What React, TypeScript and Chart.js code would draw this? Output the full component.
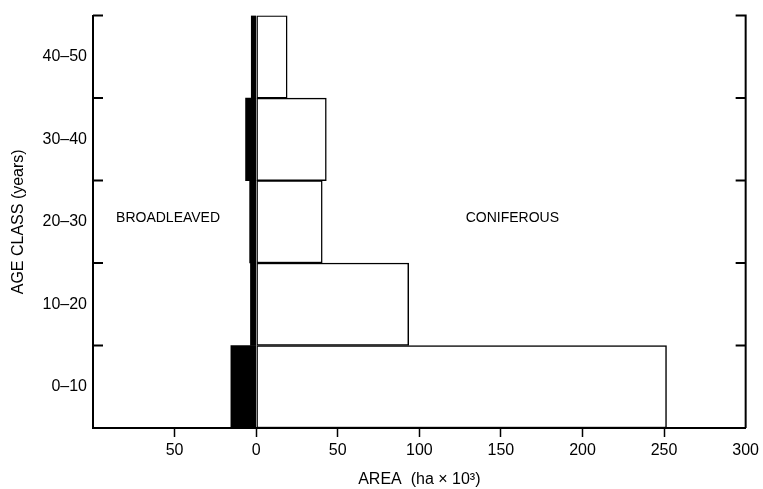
import React, { useEffect, useRef } from "react";
import { Chart, registerables } from "chart.js";

Chart.register(...registerables);

// Age classes, bottom to top
const ageClasses = ["0–10", "10–20", "20–30", "30–40", "40–50"];
// Area (ha x 10^3); broadleaved plotted to the left (negative)
const broadleaved = [-15.5, -3.5, -4, -6.5, -3];
const coniferous = [251.5, 93.5, 40.5, 43, 19];
const xMin = -100;
const xMax = 300;
const xStep = 50;
const annotations = [
  { text: "BROADLEAVED", x: -54, category: "20–30" },
  { text: "CONIFEROUS", x: 157, category: "20–30" },
];

const FONT = "'Liberation Sans', Arial, Helvetica, sans-serif";

const framePlugin = {
  id: "frame",
  afterDraw(chart: any) {
    const { ctx, chartArea, scales } = chart;
    const y = scales.y;
    const x = scales.x;
    const step = Math.abs(y.getPixelForValue(1) - y.getPixelForValue(0));
    ctx.save();
    ctx.strokeStyle = "#000";
    ctx.lineWidth = 2;
    ctx.beginPath();
    ctx.moveTo(chartArea.right, chartArea.top - 1);
    ctx.lineTo(chartArea.right, chartArea.bottom);
    const tl = 10;
    for (let i = 0; i < ageClasses.length; i++) {
      const edge = y.getPixelForValue(i) - step / 2;
      ctx.moveTo(chartArea.left, edge);
      ctx.lineTo(chartArea.left + tl, edge);
      ctx.moveTo(chartArea.right, edge);
      ctx.lineTo(chartArea.right - tl, edge);
    }
    ctx.stroke();
    ctx.fillStyle = "#000";
    ctx.font = `14px ${FONT}`;
    ctx.textAlign = "center";
    ctx.textBaseline = "middle";
    for (const a of annotations) {
      const idx = ageClasses.indexOf(a.category);
      ctx.fillText(a.text, x.getPixelForValue(a.x), y.getPixelForValue(idx) - 4);
    }
    ctx.restore();
  },
};

export default function App() {
  const ref = useRef<HTMLCanvasElement>(null);
  useEffect(() => {
    if (!ref.current) return;
    const chart = new Chart(ref.current, {
      type: "bar",
      data: {
        labels: ageClasses,
        datasets: [
          {
            label: "Coniferous",
            data: coniferous,
            backgroundColor: "#ffffff",
            borderColor: "#000000",
            borderWidth: 1.5,
            borderSkipped: false,
            barPercentage: 1,
            categoryPercentage: 1,
          },
          {
            label: "Broadleaved",
            data: broadleaved,
            backgroundColor: "#000000",
            borderColor: "#000000",
            borderWidth: 0,
            barPercentage: 1,
            categoryPercentage: 1,
          },
        ],
      },
      options: {
        indexAxis: "y",
        animation: false,
        responsive: false,
        devicePixelRatio: 1,
        layout: { padding: { top: 15, right: 14, left: 0, bottom: 0 } },
        plugins: { legend: { display: false }, tooltip: { enabled: false } },
        scales: {
          x: {
            type: "linear",
            stacked: true,
            min: xMin,
            max: xMax,
            afterFit: (s: any) => {
              s.height = 61;
            },
            ticks: {
              stepSize: xStep,
              color: "#000",
              font: { family: FONT, size: 16 },
              padding: 4,
              maxRotation: 0,
              callback: (v: any) => (v === xMin ? "" : String(Math.abs(Number(v)))),
            },
            grid: {
              display: true,
              drawOnChartArea: false,
              drawTicks: true,
              tickLength: 9,
              tickWidth: 1.5,
              tickColor: (c: any) =>
                c.tick && (c.tick.value === xMin || c.tick.value === xMax) ? "rgba(0,0,0,0)" : "#000",
            },
            border: { display: true, color: "#000", width: 2 },
            title: {
              display: true,
              text: "AREA  (ha × 10³)",
              color: "#000",
              font: { family: FONT, size: 16 },
              padding: { top: 4, bottom: 0 },
            },
          },
          y: {
            type: "category",
            stacked: true,
            reverse: true,
            afterFit: (s: any) => {
              s.width = 93;
            },
            ticks: {
              color: "#000",
              font: { family: FONT, size: 16 },
              padding: 6,
            },
            grid: { display: false, drawTicks: false },
            border: { display: true, color: "#000", width: 2 },
            title: {
              display: true,
              text: "AGE CLASS (years)",
              color: "#000",
              font: { family: FONT, size: 16 },
              padding: { top: 9, bottom: 4 },
            },
          },
        },
      },
      plugins: [framePlugin],
    } as any);
    return () => chart.destroy();
  }, []);
  return (
    <div style={{ position: "fixed", left: 0, top: 0, width: 763, height: 489, background: "#fff" }}>
      <canvas ref={ref} width={763} height={489} style={{ width: 763, height: 489 }} />
    </div>
  );
}
